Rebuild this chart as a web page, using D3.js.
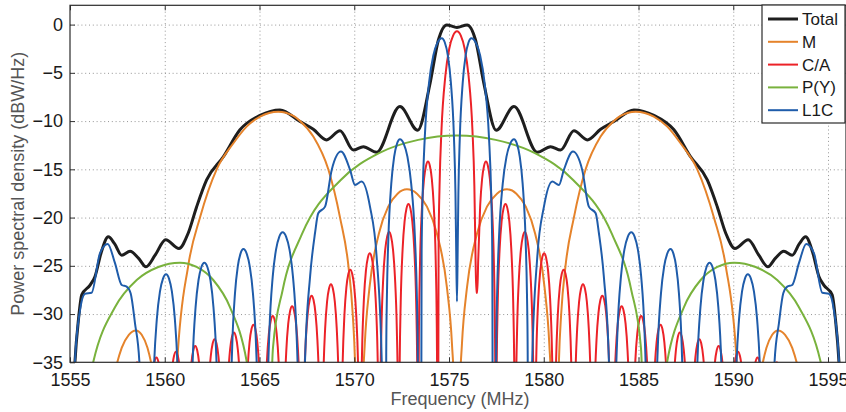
<!DOCTYPE html>
<html>
<head>
<meta charset="utf-8">
<script src="https://cdn.jsdelivr.net/npm/d3@7"></script>
<style>
  body { margin: 0; background: #fff; }
  svg { display: block; font-family: "Liberation Sans", Arial, sans-serif; }
  .grid line { stroke: #8a8a8a; stroke-width: 0.9; stroke-dasharray: 1 2.8; }
  .grid path { display: none; }
  .axis path { display: none; }
  .axis line { stroke: #333; stroke-width: 1; }
  .axis text { fill: #1a1a1a; font-size: 18px; }
  .title { fill: #555; font-size: 18px; }
  .curve { fill: none; stroke-linejoin: round; stroke-linecap: round; }
</style>
</head>
<body>
<div id="chart"></div>
<script>
// ---- data ----
const xTicks = [1555, 1560, 1565, 1570, 1575, 1580, 1585, 1590, 1595]
const yTicks = [0, -5, -10, -15, -20, -25, -30, -35]
const seriesNames = ['Total', 'M', 'C/A', 'P(Y)', 'L1C']

// Total: [MHz, dB]
const totalPts = [
  [1555.05, -45], [1555.26, -35], [1555.45, -30.5], [1555.62, -28.0], [1556.06, -27.0],
  [1556.32, -26.1], [1556.65, -23.6], [1557.02, -22.0], [1557.35, -22.7], [1557.73, -23.9],
  [1558.17, -23.5], [1558.61, -24.2], [1559.01, -25.1], [1559.49, -23.9], [1560.05, -22.3],
  [1560.75, -23.2], [1561.24, -21.6], [1561.68, -18.9], [1562.21, -16.1], [1563.09, -13.7],
  [1563.97, -10.9], [1565.03, -9.4], [1566.08, -8.84], [1567.14, -10.05], [1567.84, -10.85],
  [1568.54, -11.95], [1569.25, -11.0], [1569.95, -13.0], [1570.48, -12.65], [1571.18, -13.23],
  [1572.41, -8.5], [1573.35, -10.95], [1574.0, -6.1], [1574.44, -1.6], [1574.88, -0.03],
  [1575.42, -0.3], [1575.96, -0.03], [1576.40, -1.6], [1576.84, -6.1], [1577.49, -10.95],
  [1578.43, -8.5], [1579.66, -13.23], [1580.36, -12.65], [1580.89, -13.0], [1581.59, -11.0],
  [1582.30, -11.95], [1583.00, -10.85], [1583.70, -10.05], [1584.76, -8.84], [1585.81, -9.4],
  [1586.87, -10.9], [1587.75, -13.7], [1588.63, -16.1], [1589.16, -18.9], [1589.60, -21.6],
  [1590.09, -23.2], [1590.79, -22.3], [1591.35, -23.9], [1591.83, -25.1], [1592.23, -24.2],
  [1592.67, -23.5], [1593.11, -23.9], [1593.49, -22.7], [1593.82, -22.0], [1594.19, -23.6],
  [1594.52, -26.1], [1594.78, -27.0], [1595.22, -28.0], [1595.39, -30.5], [1595.58, -35],
  [1595.79, -45]
]

// lobes: [left null, peak MHz, peak dB, right null, left null dB, right null dB]
const mLobes = [
  [1556.6, 1558.48, -31.7, 1560.0],
  [1570.31, 1572.78, -17.07, 1575.42],
  [1575.42, 1578.06, -17.07, 1580.54],
  [1590.84, 1592.36, -31.7, 1594.24]
]
// M main lobes traced point by point
const mMainLeft = [
  [1560.3, -70], [1560.66, -34.93], [1561.24, -24.98], [1561.86, -20.0], [1562.74, -15.0],
  [1563.62, -12.3], [1564.32, -10.57], [1565.03, -9.53], [1565.99, -9.02], [1566.79, -9.46],
  [1567.14, -9.98], [1567.84, -11.6], [1568.63, -15.0], [1569.25, -20.0], [1569.69, -24.98],
  [1569.92, -29.99], [1570.04, -34.93]
]
const mMainRight = [
  [1580.80, -34.93], [1580.92, -29.99], [1581.15, -24.98], [1581.59, -20.0], [1582.21, -15.0],
  [1583.00, -11.6], [1583.70, -9.98], [1584.05, -9.46], [1584.85, -9.02], [1585.81, -9.53],
  [1586.52, -10.57], [1587.22, -12.3], [1588.10, -15.0], [1588.98, -20.0], [1589.60, -24.98],
  [1590.18, -34.93], [1590.54, -70]
]

const caLobes = [
  [1554.96, 1555.47, -36.4, 1555.98], [1555.98, 1556.49, -36.0, 1557.01],
  [1557.01, 1557.52, -35.5, 1558.03], [1558.03, 1558.54, -35.0, 1559.05],
  [1559.05, 1559.56, -34.5, 1560.08], [1560.08, 1560.59, -33.9, 1561.10],
  [1561.10, 1561.61, -33.3, 1562.12], [1562.12, 1562.63, -32.6, 1563.14],
  [1563.14, 1563.65, -31.9, 1564.17], [1564.17, 1564.68, -31.1, 1565.19],
  [1565.19, 1565.70, -30.2, 1566.21], [1566.21, 1566.72, -29.2, 1567.24],
  [1567.24, 1567.75, -28.1, 1568.26], [1568.26, 1568.77, -26.9, 1569.28],
  [1569.28, 1569.79, -25.4, 1570.31], [1570.31, 1570.82, -23.7, 1571.33],
  [1571.33, 1571.84, -21.5, 1572.35], [1572.35, 1572.86, -18.6, 1573.37],
  [1573.37, 1573.89, -14.2, 1574.40], [1574.40, 1575.42, -0.7, 1576.44, -70, -27.8],
  [1576.44, 1576.95, -14.2, 1577.47, -27.8], [1577.47, 1577.98, -18.6, 1578.49],
  [1578.49, 1579.00, -21.5, 1579.51], [1579.51, 1580.02, -23.7, 1580.54],
  [1580.54, 1581.05, -25.4, 1581.56], [1581.56, 1582.07, -26.9, 1582.58],
  [1582.58, 1583.09, -28.1, 1583.60], [1583.60, 1584.11, -29.2, 1584.63],
  [1584.63, 1585.14, -30.2, 1585.65], [1585.65, 1586.16, -31.1, 1586.67],
  [1586.67, 1587.18, -31.9, 1587.70], [1587.70, 1588.21, -32.6, 1588.72],
  [1588.72, 1589.23, -33.3, 1589.74], [1589.74, 1590.25, -33.9, 1590.77],
  [1590.77, 1591.28, -34.5, 1591.79], [1591.79, 1592.30, -35.0, 1592.81],
  [1592.81, 1593.32, -35.5, 1593.83], [1593.83, 1594.34, -36.0, 1594.86],
  [1594.86, 1595.37, -36.4, 1595.88]
]

const pyLobes = [
  [1555.1, 1560.80, -24.67, 1565.2],
  [1565.2, 1575.42, -11.5, 1585.64],
  [1585.64, 1590.04, -24.67, 1595.74]
]

const l1cLobes = [
  [1559.26, 1560.07, -25.88, 1560.84], [1561.32, 1562.09, -24.67, 1562.89],
  [1563.41, 1564.15, -23.26, 1564.99], [1565.35, 1566.22, -21.52, 1567.13],
  [1571.65, 1572.41, -11.88, 1573.40], [1573.50, 1574.62, -1.41, 1575.42, -70, -28.7],
  [1575.42, 1576.18, -1.41, 1577.34, -28.7], [1577.44, 1578.43, -11.88, 1579.19],
  [1583.71, 1584.62, -21.52, 1585.49], [1585.85, 1586.69, -23.26, 1587.43],
  [1587.95, 1588.75, -24.67, 1589.52], [1590.00, 1590.77, -25.88, 1591.58]
]
// L1C lobes with shoulders, traced point by point
const l1cOuterLeft = [
  [1555.1, -70], [1555.26, -34.93], [1555.53, -29.6], [1555.79, -27.9], [1556.14, -27.8],
  [1556.58, -23.7], [1556.99, -22.73], [1557.37, -24.7], [1557.73, -26.99], [1557.99, -27.16],
  [1558.20, -27.85], [1558.43, -30.96], [1558.66, -34.93], [1558.8, -70]
]
const l1cInnerLeft = [
  [1567.3, -70], [1567.40, -35], [1567.67, -26.1], [1567.93, -21.6], [1568.10, -19.56],
  [1568.46, -18.87], [1568.81, -15.06], [1569.30, -13.16], [1569.78, -15.06], [1570.04, -16.62],
  [1570.39, -16.27], [1570.83, -18.87], [1571.18, -24.05], [1571.45, -34.9], [1571.55, -70]
]
const l1cInnerRight = [
  [1579.29, -70], [1579.39, -34.9], [1579.66, -24.05], [1580.01, -18.87], [1580.45, -16.27],
  [1580.80, -16.62], [1581.06, -15.06], [1581.54, -13.16], [1582.03, -15.06], [1582.38, -18.87],
  [1582.74, -19.56], [1582.91, -21.6], [1583.17, -26.1], [1583.44, -35], [1583.54, -70]
]
const l1cOuterRight = [
  [1592.04, -70], [1592.18, -34.93], [1592.41, -30.96], [1592.64, -27.85], [1592.85, -27.16],
  [1593.11, -26.99], [1593.47, -24.7], [1593.85, -22.73], [1594.26, -23.7], [1594.70, -27.8],
  [1595.05, -27.9], [1595.31, -29.6], [1595.58, -34.93], [1595.74, -70]
]

// ---- layout ----
const dms = { width: 846, height: 412, left: 70, right: 846, top: 5.3, bottom: 362.3 }
const colors = ['#1e1e1e', '#e5832b', '#ec2228', '#79b23d', '#1f5caa']
const widths = [3, 2, 2, 2, 2]

// shape of one lobe between its nulls (fraction of half width, dB below peak)
const lobeT = [0.05, 0.1, 0.2, 0.4, 0.6, 0.8]
const lobeDrop = [22, 16, 10.2, 4.6, 1.8, 0.45]

function lobePoints(l) {
  const [x0, xp, yp, x1, y0 = -70, y1 = -70] = l
  const pts = [[x0, y0]]
  lobeT.forEach((t, i) => pts.push([x0 + t * (xp - x0), Math.max(yp - lobeDrop[i], y0)]))
  pts.push([xp, yp])
  for (let i = lobeT.length - 1; i >= 0; i--) {
    pts.push([x1 - lobeT[i] * (x1 - xp), Math.max(yp - lobeDrop[i], y1)])
  }
  pts.push([x1, y1])
  return pts
}

function seriesPoints(lobes, traced) {
  const all = lobes.flatMap(lobePoints).concat(...traced)
  all.sort((a, b) => a[0] - b[0])
  const out = []
  all.forEach(p => {
    if (!out.length || p[0] > out[out.length - 1][0] + 1e-6) out.push(p)
  })
  return out
}

const series = [
  totalPts,
  seriesPoints(mLobes, [mMainLeft, mMainRight]),
  seriesPoints(caLobes, []),
  seriesPoints(pyLobes, []),
  seriesPoints(l1cLobes, [l1cOuterLeft, l1cInnerLeft, l1cInnerRight, l1cOuterRight])
]

const x = d3.scaleLinear().domain([1555, 1595]).range([70, 828])
const y = d3.scaleLinear().domain([-35, 2]).range([dms.bottom, dms.top])
const plotW = dms.right - dms.left
const plotH = dms.bottom - dms.top

const svg = d3.select('#chart').append('svg')
    .attr('width', dms.width)
    .attr('height', dms.height)

svg.append('clipPath').attr('id', 'clip')
  .append('rect')
    .attr('x', dms.left).attr('y', dms.top)
    .attr('width', plotW).attr('height', plotH)

// grid
svg.append('g').attr('class', 'grid')
    .attr('transform', `translate(0,${dms.bottom})`)
    .call(d3.axisBottom(x).tickValues(xTicks.slice(1)).tickSize(-plotH).tickFormat(''))
svg.append('g').attr('class', 'grid')
    .attr('transform', `translate(${dms.left},0)`)
    .call(d3.axisLeft(y).tickValues(yTicks.slice(0, -1)).tickSize(-plotW).tickFormat(''))

// curves
const line = d3.line()
    .x(d => x(d[0]))
    .y(d => y(d[1]))
    .curve(d3.curveMonotoneX)

svg.append('g').attr('clip-path', 'url(#clip)')
  .selectAll('path')
  .data(series)
  .join('path')
    .attr('class', 'curve')
    .attr('d', line)
    .attr('stroke', (d, i) => colors[i])
    .attr('stroke-width', (d, i) => widths[i])

// axes with inward ticks
const fmtY = d => d < 0 ? '\u2212' + Math.abs(d) : d
svg.append('g').attr('class', 'axis')
    .attr('transform', `translate(0,${dms.bottom})`)
    .call(d3.axisBottom(x).tickValues(xTicks).tickSizeInner(-5).tickSizeOuter(0)
      .tickPadding(11).tickFormat(d => d))
svg.append('g').attr('class', 'axis')
    .attr('transform', `translate(0,${dms.top})`)
    .call(d3.axisTop(x).tickValues(xTicks).tickSizeInner(-5).tickSizeOuter(0).tickFormat(''))
svg.append('g').attr('class', 'axis')
    .attr('transform', `translate(${dms.left},0)`)
    .call(d3.axisLeft(y).tickValues(yTicks).tickSizeInner(-5).tickSizeOuter(0)
      .tickPadding(7).tickFormat(fmtY))

svg.append('rect')
    .attr('x', dms.left).attr('y', dms.top)
    .attr('width', plotW).attr('height', plotH)
    .attr('fill', 'none').attr('stroke', '#2b2b2b').attr('stroke-width', 1.2)

// titles
svg.append('text').attr('class', 'title')
    .attr('x', 460).attr('y', 405)
    .attr('text-anchor', 'middle')
    .text('Frequency (MHz)')
svg.append('text').attr('class', 'title')
    .attr('transform', `translate(24,${(dms.top + dms.bottom) / 2}) rotate(-90)`)
    .attr('text-anchor', 'middle')
    .text('Power spectral density (dBW/Hz)')

// legend
const legend = svg.append('g').attr('transform', 'translate(762,5)')
legend.append('rect')
    .attr('width', 83).attr('height', 118)
    .attr('fill', '#fff').attr('stroke', '#2b2b2b').attr('stroke-width', 1.2)
const item = legend.selectAll('g.item')
  .data(seriesNames)
  .join('g')
    .attr('class', 'item')
    .attr('transform', (d, i) => `translate(0,${14 + i * 22.8})`)
item.append('line')
    .attr('x1', 6).attr('x2', 36)
    .attr('stroke', (d, i) => colors[i])
    .attr('stroke-width', (d, i) => i === 0 ? 3 : 2)
item.append('text')
    .attr('x', 40).attr('dy', '0.35em')
    .style('font-size', '17px').style('fill', '#1a1a1a')
    .text(d => d)
</script>
</body>
</html>
